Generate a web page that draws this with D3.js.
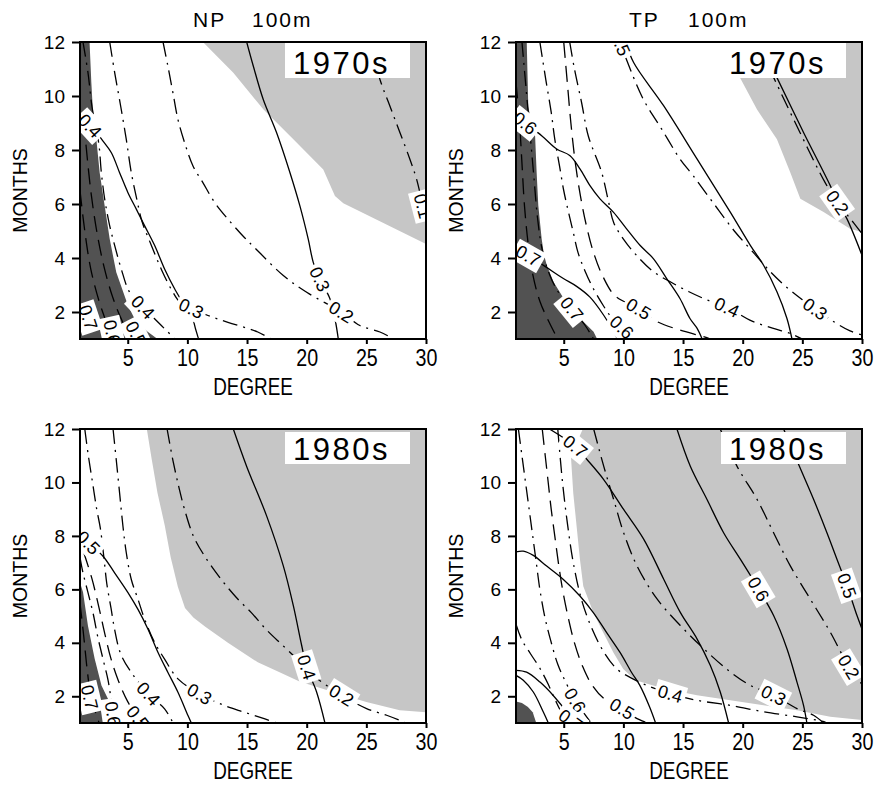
<!DOCTYPE html>
<html>
<head>
<meta charset="utf-8">
<script src="https://cdn.jsdelivr.net/npm/d3@7"></script>
<style>
  body { margin: 0; background: #fff; }
  text { font-family: "Liberation Sans", Arial, sans-serif; }
</style>
</head>
<body>
<script>
// axis ticks
const xTicks = [5, 10, 15, 20, 25, 30];
const yTicks = [2, 4, 6, 8, 10, 12];

// ---- NP 1970s ----
const np70Light = [[11.3,12],[13.85,10.86],[16.36,9.51],[18.88,8.4],[21.39,7.28],[22.37,6.3],[23.07,6.03],[30,4.52],[30,12]];
const np70Dark = [[1,12],[1.8,12],[1.95,10.5],[2.1,9.3],[2.37,8.4],[2.65,7.16],[3.07,5.93],[3.49,4.7],[4.04,3.47],[5.02,2.24],[5.72,1.62],[6.7,1.26],[7.5,1],[1,1]];
const np70Solid = [
  [[1,9.25],[1.8,8.95],[2.93,8.33],[3.63,7.9],[4.32,7.16],[5.02,6.42],[5.72,5.81],[6.42,5.19],[7.26,4.46],[8.09,3.59],[8.93,2.86],[9.5,2.45],[10.33,2.14],[10.5,1.7],[10.89,1.07],[10.95,1]],
  [[14.97,12],[15.53,11.1],[16.36,9.87],[17.48,8.64],[18.6,7.16],[19.43,5.93],[20.13,4.7],[20.55,3.84],[21.1,3.22],[21.95,2.49],[22.37,1.75],[22.65,1]]
];
const np70DashDot = [
  [[3.49,12],[3.91,10.86],[4.41,9.62],[4.88,8.39],[5.3,7.16],[5.75,6.2],[6.2,5.35],[6.95,4.5],[7.85,3.55],[8.7,2.8],[9.4,2.35],[10.33,2.14],[11.73,1.87],[13.4,1.62],[15.9,1.26],[17,1]],
  [[1.25,12],[1.67,10.86],[2.0,9.62],[2.35,8.8],[2.6,8.15],[2.79,7.16],[3.07,6.18],[3.49,5.19],[3.91,4.46],[4.46,3.59],[5.16,2.73],[6.28,2.18],[7.82,1.5],[8.79,1.07],[8.93,1]],
  [[7.96,12],[8.37,11.1],[8.79,10.12],[9.21,9.13],[9.77,8.27],[10.47,7.41],[11.3,6.79],[12.28,6.06],[13.4,5.44],[14.8,4.75],[15.6,4.4],[18.04,3.35],[20,2.73],[22.9,2],[24.46,1.5],[26.14,1.26],[27.3,1]],
  [[25.3,12],[26.14,10.61],[26.98,9.62],[27.82,8.64],[28.65,7.66],[29.21,6.92],[29.75,5.93],[30.1,5.4]]
];
const np70Dashed = [
  [[1,6.5],[1.4,5],[1.9,3.6],[2.6,2.4],[3.2,1.6],[3.5,1]],
  [[1.5,8.2],[1.9,6.5],[2.4,5],[3,3.7],[3.7,2.6],[4.5,1.7],[5.3,1]]
];
const np70Labels = [["0.4",1.84,8.9],["0.3",10.33,2.14],["0.4",6.28,2.18],["0.3",21.1,3.22],["0.2",22.9,2.0],["0.1",29.75,5.93],["0.7",1.7,1.8],["0.6",3.7,1.25],["0.5",5.7,1.2]];

// ---- TP 1970s ----
const tp70Light = [[18.3,12],[19.8,10.66],[21.2,9.5],[22.87,8.4],[23.99,7.17],[24.83,6.19],[26.78,5.7],[29,5.08],[30,4.96],[30,12]];
const tp70Dark = [[1,12],[1.9,12],[2.03,9.6],[2.3,9],[2.6,8.53],[2.73,7.17],[2.87,5.94],[3.15,4.71],[3.35,4.1],[3.6,3.7],[4.16,3.1],[5,2.5],[6.1,1.88],[7.5,1.27],[7.8,1],[1,1]];
const tp70Solid = [
  [[1,9.3],[1.75,9],[3.15,8.53],[4.41,8.04],[5.53,7.79],[6.36,7.3],[7.2,6.68],[8.04,6.19],[9.16,5.7],[10.27,5.08],[11.39,4.47],[12.51,3.98],[13.63,3.24],[14.74,2.5],[15.58,1.76],[16.17,1.4],[16.6,1]],
  [[1,4.3],[2.03,4.09],[3.4,3.7],[4.97,3.24],[6.08,2.95],[7.2,2.55],[8.35,1.88],[9.18,1.27],[9.5,1]],
  [[10.2,12],[10.86,11.24],[13.37,9.64],[16.17,7.67],[18.96,5.7],[20.64,4.47],[21.75,3.73],[22.87,2.75],[23.71,1.76],[24.13,1]],
  [[21.4,12],[22.87,10.68],[25.1,8.65],[27.34,6.68],[27.95,6.06],[28.74,5.45],[30,4.1]]
];
const tp70DashDot = [
  [[1.5,12],[1.9,10],[2.2,8.5],[2.5,7],[2.8,5.5],[3.2,4.3],[3.8,3.4],[4.6,2.7],[5.69,2.12],[6.8,1.5],[7.5,1]],
  [[3,12],[3.5,10.6],[3.95,9.4],[4.25,8.4],[4.65,7.4],[5,6.5],[5.4,5.7],[5.8,4.95],[6.2,4.2],[6.8,3.5],[7.5,2.85],[8.3,2.25],[9,1.8],[9.88,1.44],[10.7,1.1],[11,1]],
  [[5.5,12],[5.9,11],[6.5,9.75],[7.06,8.52],[8.18,7.17],[8.7,6.2],[9.2,5.3],[9.99,4.71],[11.1,4.1],[12.5,3.5],[14,3.1],[15.5,2.75],[17,2.45],[18.68,2.18],[20.6,1.7],[22.5,1.4],[24,1.2],[25,1]],
  [[9.2,12.4],[9.75,11.95],[10.25,11.36],[11.67,9.88],[13.2,8.78],[14.74,7.67],[15.86,7.04],[17.6,6],[19.3,5],[20.9,4.2],[22.3,3.5],[23.6,2.95],[25,2.45],[26.08,2.12],[27.6,1.65],[29,1.3],[30,1.15]],
  [[21.2,12],[22.6,10.68],[24.8,8.65],[26.9,6.8],[27.95,6.06],[29.3,5.3],[30,4.9]]
];
const tp70Dashed = [
  [[5,12],[5.3,10.5],[5.6,9],[5.95,7.6],[6.4,6.3],[6.9,5.2],[7.5,4.2],[8.3,3.3],[9.3,2.6],[11.28,2.12],[12.8,1.65],[14.6,1.35],[16.6,1.1],[17.3,1]],
  [[1,10.5],[1.3,9],[1.5,7.5],[1.7,6],[2,4.6],[2.4,3.4],[3,2.4],[3.8,1.6],[4.5,1]]
];
const tp70Labels = [["0.6",1.75,9],["0.7",2.03,4.09],["0.7",5.69,2.12],["0.6",9.88,1.44],["0.5",11.28,2.12],["0.4",18.68,2.18],["0.3",26.08,2.12],["0.5",9.75,11.95],["0.2",27.95,6.06]];

// ---- NP 1980s ----
const np80Light = [[6.6,12],[7,10.9],[7.5,9.6],[8.1,8.4],[8.6,7.2],[9.2,6.1],[9.8,5.3],[10.5,4.95],[11.5,4.6],[13.4,4],[15.9,3.27],[17.5,2.95],[19.4,2.55],[22.2,2.16],[25,1.79],[27.8,1.48],[30,1.4],[30,12]];
const np80Dark = [[1,6.25],[1.25,5.9],[1.67,4.63],[2.23,3.4],[2.8,2.4],[3.35,1.9],[3.5,1],[1,1]];
const np80Solid = [
  [[1,8.1],[1.7,7.75],[2.93,7.24],[3.9,6.62],[5.02,5.88],[5.86,5.25],[6.7,4.51],[7.54,3.64],[8.37,2.89],[9.21,2.15],[10.05,1.28],[10.33,1]],
  [[13.85,12],[14.97,10.6],[16.64,8.75],[18.04,6.88],[18.88,5.39],[19.58,3.9],[20,3.09],[20.83,2.16],[21.53,1]]
];
const np80DashDot = [
  [[1.4,12],[1.7,11],[2.05,10],[2.4,9],[2.7,8.3],[3,7.2],[3.25,6.2],[3.6,5.3],[3.9,4.5],[4.4,3.6],[5.3,2.89],[6.75,2.09],[8.09,1.53],[8.8,1]],
  [[3.77,12],[4.04,10.84],[4.32,9.6],[4.6,8.36],[4.88,7.37],[5.3,6.37],[5.86,5.63],[6.42,4.88],[7.26,4.01],[8.09,3.39],[9.21,2.65],[11.03,2.09],[13.12,1.65],[14.8,1.4],[16.5,1.15],[17.5,1]],
  [[1,7.2],[1.25,6.62],[1.67,5.88],[2.1,5.1],[2.5,4.2],[2.93,3.39],[3.35,2.6],[3.6,1.9],[3.77,1.34],[3.9,1]],
  [[8.3,12],[8.8,10.8],[9.3,9.8],[9.77,8.98],[10.5,8],[11.45,7.24],[12.84,6.37],[14.24,5.63],[15.36,5.13],[16.6,4.5],[18,3.9],[19.3,3.35],[20.5,2.8],[22.93,2.04],[25.02,1.54],[26.7,1.29],[27.8,1.1],[28.3,1]]
];
const np80Dashed = [
  [[1.3,7.4],[2,6.4],[2.6,5.3],[3.1,4.3],[3.6,3.4],[4.2,2.6],[5,1.8],[5.86,1.2],[6.4,1]],
  [[1,5.5],[1.3,4.3],[1.55,3.2],[1.75,2.4],[1.81,1.96],[2.3,1.4],[2.6,1]]
];
const np80Labels = [["0.5",1.7,7.75],["0.4",6.75,2.09],["0.3",11.03,2.09],["0.7",1.81,1.96],["0.6",3.77,1.34],["0.5",5.86,1.2],["0.4",20,3.09],["0.2",22.93,2.04]];

// ---- TP 1980s ----
const tp80Light = [[6.6,12],[5.6,11],[5.8,9.6],[6.08,8.36],[6.36,7.12],[6.64,6.12],[7.48,5.13],[8.32,4.38],[9.16,3.64],[9.99,3.02],[11,2.6],[13.37,2.29],[16.17,2.04],[18.96,1.85],[21.75,1.66],[24.55,1.48],[27.34,1.23],[30,1.11],[30,12]];
const tp80Dark = [[1,1.8],[1.5,1.75],[2,1.6],[2.4,1.4],[2.7,1],[1,1]];
const tp80Solid = [
  [[3.8,12],[5.97,11.35],[6.95,10.86],[8.35,10.11],[10.02,8.99],[11.7,7.88],[13.37,6.39],[14.77,5.14],[16.17,4.15],[17.28,3.16],[18.12,2.16],[18.82,1]],
  [[1,7.4],[1.61,7.43],[2.45,7.27],[3.57,6.87],[4.97,6.37],[6.36,5.75],[7.48,5.13],[8.6,4.38],[9.72,3.64],[10.69,2.89],[11.39,2.4],[12.2,1.6],[12.7,1]],
  [[1,2.97],[1.89,2.9],[3.01,2.53],[4.12,2.03],[5.24,1.41],[5.8,1]],
  [[1,2.78],[1.61,2.6],[2.45,2.16],[3.29,1.41],[3.71,1]],
  [[14.49,12],[15.61,10.61],[17,9.37],[18.4,8.12],[19.8,7.13],[21.34,6.01],[22.59,5.02],[23.71,3.78],[24.55,2.53],[25.1,1.66],[25.38,1]],
  [[23.43,12],[24.69,10.67],[25.94,9.37],[27.06,8.12],[27.9,7.13],[28.74,6.14],[29.58,5.02],[30,4.52]]
];
const tp80DashDot = [
  [[7.51,12],[8.35,10.61],[9.18,9.37],[10.02,8.12],[11.14,6.88],[12.82,5.64],[14.77,4.65],[16.73,3.78],[18.96,2.91],[20.64,2.41],[22.59,2.04],[24.55,1.54],[25.94,1.29],[26.78,1]],
  [[18.12,12],[19.52,10.61],[21.2,9.37],[22.59,8.12],[23.99,6.88],[25.66,5.64],[27.34,4.4],[28.9,3.1],[29.85,2.53],[30.3,2.3]],
  [[4.5,12],[4.9,10],[5.3,8.5],[5.8,7],[6.5,5.6],[7.3,4.6],[8.3,3.7],[9.5,3],[10.6,2.7],[12,2.4],[13.93,2.1],[16.17,1.85],[18.96,1.66],[21.75,1.42],[24.55,1.23],[26.8,1.05],[27,1]],
  [[1.2,12],[1.5,11],[1.8,10],[2.1,9],[2.4,8],[2.7,7],[3,6],[3.4,5],[3.9,4.1],[4.5,3.2],[5.2,2.5],[5.97,1.85],[6.8,1.3],[7.3,1]],
  [[1,4.7],[1.5,4.1],[2.2,3.6],[3,3.05],[3.7,2.45],[4.3,1.85],[4.9,1.35],[5.6,1.1],[6,1]]
];
const tp80Dashed = [
  [[3.2,12],[3.45,11],[3.7,10],[3.95,9],[4.25,8],[4.55,7],[4.9,6],[5.35,5],[5.9,4],[6.6,3.1],[7.4,2.4],[8.4,1.9],[9.88,1.54],[11,1.2],[12,1]]
];
const tp80Labels = [["0.7",5.97,11.35],["0.6",5.97,1.85],["0.7",5.6,1.1],["0.5",9.88,1.54],["0.4",13.93,2.1],["0.3",22.59,2.04],["0.6",21.34,6.01],["0.5",28.74,6.14],["0.2",28.9,3.1]];

const LIGHT = "#c6c6c6";
const DARK = "#525252";
const PW = 346;
const NARROW = 0.82;

const panels = [
  { left: 80,  top: 42,  bottom: 339, title: ["NP", "100m"], year: "1970s", light: np70Light, dark: np70Dark, solid: np70Solid, dashdot: np70DashDot, dashed: np70Dashed, labels: np70Labels },
  { left: 516, top: 42,  bottom: 339, title: ["TP", "100m"], year: "1970s", light: tp70Light, dark: tp70Dark, solid: tp70Solid, dashdot: tp70DashDot, dashed: tp70Dashed, labels: tp70Labels },
  { left: 80,  top: 429, bottom: 723, title: null, year: "1980s", light: np80Light, dark: np80Dark, solid: np80Solid, dashdot: np80DashDot, dashed: np80Dashed, labels: np80Labels },
  { left: 516, top: 429, bottom: 723, title: null, year: "1980s", light: tp80Light, dark: tp80Dark, solid: tp80Solid, dashdot: tp80DashDot, dashed: tp80Dashed, labels: tp80Labels }
];

const svg = d3.select("body").append("svg").attr("width", 876).attr("height", 789);
svg.append("rect").attr("width", 876).attr("height", 789).attr("fill", "#fff");

// angle of the contour line under a label, in screen degrees
function labelAngle(lines, px, py, x, y) {
  let best = null, bd = Infinity;
  lines.forEach(pts => {
    pts.forEach((q, k) => {
      const d = Math.hypot(x(q[0]) - px, y(q[1]) - py);
      if (d < bd) {
        bd = d;
        const a = pts[Math.max(0, k - 1)], b = pts[Math.min(pts.length - 1, k + 1)];
        best = [x(a[0]), y(a[1]), x(b[0]), y(b[1])];
      }
    });
  });
  if (bd > 3) {
    // no vertex there, use the nearest segment
    bd = Infinity;
    lines.forEach(pts => {
      for (let k = 0; k < pts.length - 1; k++) {
        const ax = x(pts[k][0]), ay = y(pts[k][1]), bx = x(pts[k + 1][0]), by = y(pts[k + 1][1]);
        const dx = bx - ax, dy = by - ay;
        const t = Math.max(0, Math.min(1, ((px - ax) * dx + (py - ay) * dy) / (dx * dx + dy * dy)));
        const d = Math.hypot(ax + t * dx - px, ay + t * dy - py);
        if (d < bd) { bd = d; best = [ax, ay, bx, by]; }
      }
    });
  }
  let a = Math.atan2(best[3] - best[1], best[2] - best[0]) * 180 / Math.PI;
  if (a > 90) a -= 180;
  if (a < -90) a += 180;
  return a;
}

panels.forEach((p, i) => {
  const x = d3.scaleLinear().domain([1, 30]).range([p.left, p.left + PW]);
  const y = d3.scaleLinear().domain([1, 12]).range([p.bottom, p.top]);
  const g = svg.append("g");

  g.append("clipPath").attr("id", "clip" + i)
    .append("rect")
    .attr("x", x(1)).attr("y", y(12))
    .attr("width", x(30) - x(1)).attr("height", y(1) - y(12));

  const plot = g.append("g").attr("clip-path", `url(#clip${i})`);
  const poly = d3.line().x(d => x(d[0])).y(d => y(d[1]));
  const curve = d3.line().x(d => x(d[0])).y(d => y(d[1])).curve(d3.curveCatmullRom.alpha(0.5));

  // shading
  plot.append("path").attr("d", poly(p.light) + "Z").attr("fill", LIGHT);
  plot.append("path").attr("d", poly(p.dark) + "Z").attr("fill", DARK);

  // contour lines
  plot.selectAll(".solid").data(p.solid).enter().append("path")
    .attr("class", "solid").attr("d", curve)
    .attr("fill", "none").attr("stroke", "#000").attr("stroke-width", 1.3);
  plot.selectAll(".dashdot").data(p.dashdot).enter().append("path")
    .attr("class", "dashdot").attr("d", curve)
    .attr("fill", "none").attr("stroke", "#000").attr("stroke-width", 1.3)
    .attr("stroke-dasharray", "15,6,2,6");
  plot.selectAll(".dashed").data(p.dashed).enter().append("path")
    .attr("class", "dashed").attr("d", curve)
    .attr("fill", "none").attr("stroke", "#000").attr("stroke-width", 1.3)
    .attr("stroke-dasharray", "16,8");

  // contour labels
  const allLines = p.dashdot.concat(p.dashed, p.solid);
  p.labels.forEach(l => {
    const px = x(l[1]), py = y(l[2]);
    const a = labelAngle(allLines, px, py, x, y);
    const lg = plot.append("g").attr("transform", `translate(${px},${py}) rotate(${a})`);
    const t = lg.append("text").text(l[0])
      .attr("text-anchor", "middle").attr("dy", "0.36em")
      .style("font-size", "18px").attr("fill", "#000");
    const bb = t.node().getBBox();
    lg.insert("rect", "text")
      .attr("x", bb.x - 3).attr("y", bb.y - 1)
      .attr("width", bb.width + 6).attr("height", bb.height + 2)
      .attr("fill", "#fff");
  });

  // decade box
  const bx = x(30) - 16 - 125;
  const by = i < 2 ? y(12) : y(12) + 3;
  const bh = i < 2 ? 36 : 32;
  g.append("rect").attr("x", bx).attr("y", by).attr("width", 125).attr("height", bh).attr("fill", "#fff");
  g.append("text").text(p.year)
    .attr("x", bx + 8).attr("y", by + bh - 4)
    .style("font-size", "31px").style("letter-spacing", "2.5px");

  // frame
  g.append("rect")
    .attr("x", x(1)).attr("y", y(12))
    .attr("width", x(30) - x(1)).attr("height", y(1) - y(12))
    .attr("fill", "none").attr("stroke", "#000").attr("stroke-width", 2);

  // axes
  const xa = g.append("g").attr("transform", `translate(0,${y(1)})`)
    .call(d3.axisBottom(x).tickValues(xTicks).tickSize(5).tickPadding(5));
  const ya = g.append("g").attr("transform", `translate(${x(1)},0)`)
    .call(d3.axisLeft(y).tickValues(yTicks).tickSize(8).tickPadding(7));
  [xa, ya].forEach(a => {
    a.select(".domain").remove();
    a.selectAll("line").attr("stroke", "#000").attr("stroke-width", 2);
    a.selectAll("text").attr("fill", "#000").style("font-family", '"Liberation Sans", Arial, sans-serif');
  });
  xa.selectAll("text").style("font-size", "24px").attr("transform", `scale(${NARROW},1)`);
  ya.selectAll("text").style("font-size", "19px");

  // axis titles
  g.append("text").text("DEGREE")
    .attr("transform", `translate(${(x(1) + x(30)) / 2},${y(1) + 56}) scale(${NARROW},1)`)
    .attr("text-anchor", "middle").style("font-size", "23px");
  g.append("text").text("MONTHS")
    .attr("transform", `translate(${x(1) - 53},${(y(1) + y(12)) / 2}) rotate(-90)`)
    .attr("text-anchor", "middle").style("font-size", "19.5px");

  if (p.title) {
    g.append("text").text(p.title[0]).attr("x", p.left + 113).attr("y", 27)
      .style("font-size", "21px").style("letter-spacing", "2px");
    g.append("text").text(p.title[1]).attr("x", p.left + 172).attr("y", 27)
      .style("font-size", "21px").style("letter-spacing", "2px");
  }
});
</script>
</body>
</html>
